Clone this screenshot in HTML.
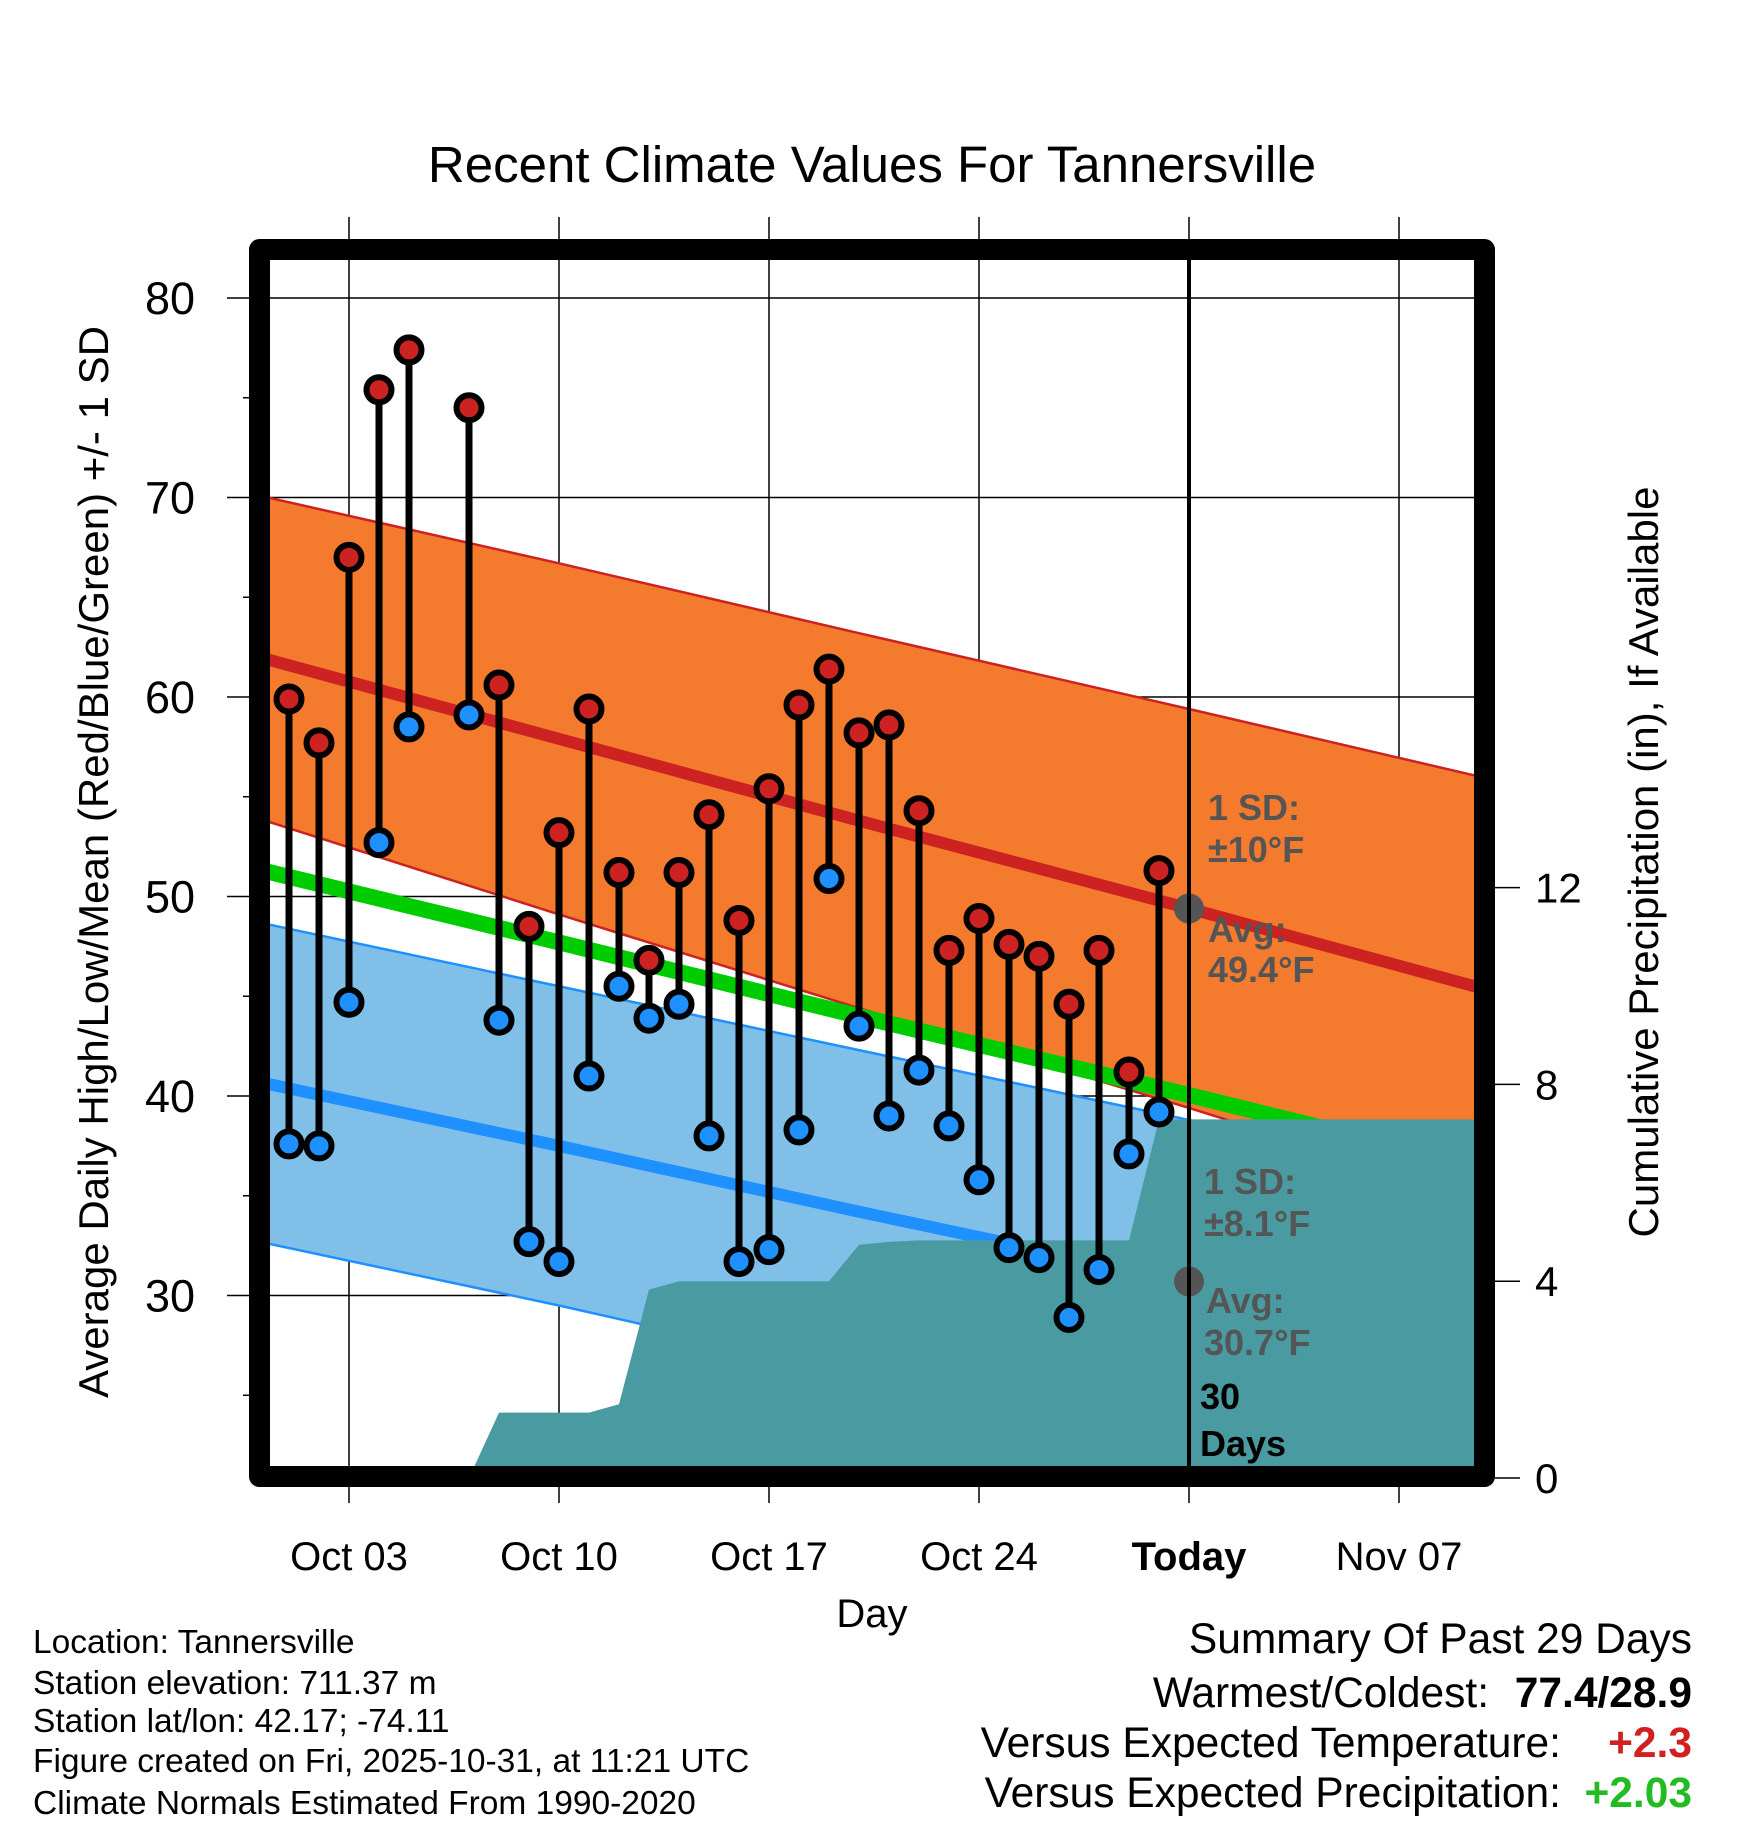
<!DOCTYPE html>
<html><head><meta charset="utf-8"><style>
html,body{margin:0;padding:0;background:#fff;}
svg{display:block;font-family:"Liberation Sans",sans-serif;}
</style></head><body>
<svg id="chart" width="1748" height="1828" viewBox="0 0 1748 1828" xmlns="http://www.w3.org/2000/svg">
<defs><clipPath id="plotclip"><rect x="270" y="260" width="1208" height="1208"/></clipPath></defs>
<text x="872" y="182" font-size="51" text-anchor="middle">Recent Climate Values For Tannersville</text>
<g id="grid"></g>
<g id="plot" clip-path="url(#plotclip)"></g>
<g id="marks"></g>
<g id="axes"></g>
<text transform="translate(108,862) rotate(-90)" font-size="42" text-anchor="middle">Average Daily High/Low/Mean (Red/Blue/Green) +/- 1 SD</text>
<text transform="translate(1658,862) rotate(-90)" font-size="42" text-anchor="middle">Cumulative Precipitation (in), If Available</text>
<text x="872" y="1627" font-size="40" text-anchor="middle">Day</text>
<g font-size="33.5">
<text x="33" y="1653">Location: Tannersville</text>
<text x="33" y="1694">Station elevation: 711.37 m</text>
<text x="33" y="1732">Station lat/lon: 42.17; -74.11</text>
<text x="33" y="1772">Figure created on Fri, 2025-10-31, at 11:21 UTC</text>
<text x="33" y="1814">Climate Normals Estimated From 1990-2020</text>
</g>
<g font-size="42.5">
<text x="1692" y="1653" text-anchor="end">Summary Of Past 29 Days</text>
<text x="1489" y="1707" text-anchor="end">Warmest/Coldest:</text>
<text x="1692" y="1707" text-anchor="end" font-weight="bold">77.4/28.9</text>
<text x="1561" y="1757" text-anchor="end">Versus Expected Temperature:</text>
<text x="1692" y="1757" text-anchor="end" font-weight="bold" fill="#d02020">+2.3</text>
<text x="1561" y="1807" text-anchor="end">Versus Expected Precipitation:</text>
<text x="1692" y="1807" text-anchor="end" font-weight="bold" fill="#22bb22">+2.03</text>
</g>
</svg>
<script>
const days=[1,2,3,4,5,7,8,9,10,11,12,13,14,15,16,17,18,19,20,21,22,23,24,25,26,27,28,29,30];
const highs=[59.9,57.7,67.0,75.4,77.4,74.5,60.6,48.5,53.2,59.4,51.2,46.8,51.2,54.1,48.8,55.4,59.6,61.4,58.2,58.6,54.3,47.3,48.9,47.6,47.0,44.6,47.3,41.2,51.3];
const lows=[37.6,37.5,44.7,52.7,58.5,59.1,43.8,32.7,31.7,41.0,45.5,43.9,44.6,38.0,31.7,32.3,38.3,50.9,43.5,39.0,41.3,38.5,35.8,32.4,31.9,28.9,31.3,37.1,39.2];
const normDays=[0,10,20,31,41];
const normHigh=[62.0,57.9,53.8,49.4,45.3];
const highSD=[8.1,8.8,9.4,10.0,10.6];
const normLow=[40.7,37.5,34.2,30.7,27.4];
const lowSD=[8.0,8.0,8.1,8.1,8.1];
const precipDays=[7,8,11,12,13,14,19,20,21,22,29,30,41];
const precipCum=[0,1.33,1.33,1.5,3.83,4.0,4.0,4.74,4.80,4.83,4.83,7.29,7.29];
const yTicks=[30,40,50,60,70,80];
const yMinor=[25,35,45,55,65,75];
const pTicks=[0,4,8,12];
const xTickDays=[3,10,17,24,31,38];
const xTickLabels=["Oct 03","Oct 10","Oct 17","Oct 24","Today","Nov 07"];
const todayDay=31;

const NS="http://www.w3.org/2000/svg";
const X=d=>349+(d-3)*30;
const Y=v=>298+(80-v)*19.95;
const P=v=>1478-v*49.2;
function mk(tag,attrs,parent){const e=document.createElementNS(NS,tag);for(const k in attrs)e.setAttribute(k,attrs[k]);parent.appendChild(e);return e;}
const grid=document.getElementById('grid'),plot=document.getElementById('plot'),marks=document.getElementById('marks'),axes=document.getElementById('axes');

yTicks.forEach(v=>{const l=mk('line',{x1:227,x2:1478,y1:Y(v),y2:Y(v),stroke:'#000','stroke-width':1.5},grid);

});
xTickDays.forEach(d=>{const l=mk('line',{x1:X(d),x2:X(d),y1:217,y2:1503,stroke:'#000','stroke-width':1.5},grid);

});

const nd=normDays;
function pts(arrA,arrB,sign){return nd.map((d,i)=>X(d)+','+Y(arrA[i]+sign*arrB[i])).join(' ');}
function band(mean,sd,fill,edge,name){
 const up=nd.map((d,i)=>X(d)+','+Y(mean[i]+sd[i]));
 const dn=nd.map((d,i)=>X(d)+','+Y(mean[i]-sd[i])).reverse();
 const p=mk('polygon',{points:up.concat(dn).join(' '),fill:fill},plot);
 
 
 mk('polyline',{points:pts(mean,sd,1),fill:'none',stroke:edge,'stroke-width':2.5},plot);
 mk('polyline',{points:pts(mean,sd,-1),fill:'none',stroke:edge,'stroke-width':2.5},plot);
}
band(normHigh,highSD,'#f47a2e','#cc2222','high-sd-band');
band(normLow,lowSD,'#80c0e8','#1e90ff','low-sd-band');
const meanPts=nd.map((d,i)=>X(d)+','+Y((normHigh[i]+normLow[i])/2)).join(' ');
const gm=mk('polyline',{points:meanPts,fill:'none',stroke:'#00cc00','stroke-width':16},plot);


const hl=mk('polyline',{points:nd.map((d,i)=>X(d)+','+Y(normHigh[i])).join(' '),fill:'none',stroke:'#cc2222','stroke-width':12},plot);


const ll=mk('polyline',{points:nd.map((d,i)=>X(d)+','+Y(normLow[i])).join(' '),fill:'none',stroke:'#1e90ff','stroke-width':12},plot);



let pp=precipDays.map((d,i)=>X(d)+','+P(precipCum[i]));
pp.push(X(precipDays[precipDays.length-1])+','+P(0));pp.push(X(precipDays[0])+','+P(0));
const pa=mk('polygon',{points:pp.join(' '),fill:'#4a9aa2'},plot);



const ann=[['1 SD:',1208,820,'#555'],['±10°F',1208,862,'#555'],['Avg:',1208,942,'#555'],['49.4°F',1208,982,'#555'],
['1 SD:',1204,1194,'#555'],['±8.1°F',1204,1236,'#555'],['Avg:',1206,1313,'#555'],['30.7°F',1204,1355,'#555'],['30',1200,1409,'#000'],['Days',1200,1456,'#000']];
ann.forEach(a=>{const t=mk('text',{x:a[1],y:a[2],'font-size':36,'font-weight':'bold',fill:a[3]},plot);t.textContent=a[0];

});
const ti=normDays.indexOf(todayDay);
[normHigh[ti],normLow[ti]].forEach(v=>{const c=mk('circle',{cx:X(todayDay),cy:Y(v),r:15,fill:'#555'},plot);

});
const tl=mk('line',{x1:X(todayDay),x2:X(todayDay),y1:260,y2:1468,stroke:'#000','stroke-width':4},plot);



days.forEach((d,i)=>{
 const g=mk('g',{},marks);
 
 
 mk('line',{x1:X(d),x2:X(d),y1:Y(highs[i]),y2:Y(lows[i]),stroke:'#000','stroke-width':7},g);
 mk('circle',{cx:X(d),cy:Y(highs[i]),r:12.5,fill:'#cc2222',stroke:'#000','stroke-width':6},g);
 mk('circle',{cx:X(d),cy:Y(lows[i]),r:12.5,fill:'#1e90ff',stroke:'#000','stroke-width':6},g);
});

const fr=mk('rect',{x:259.5,y:249.5,width:1225,height:1227,fill:'none',stroke:'#000','stroke-width':21,'stroke-linejoin':'round'},axes);


yTicks.forEach(v=>{const t=mk('text',{x:195,y:Y(v)+16,'font-size':45,'text-anchor':'end'},axes);t.textContent=v;

});
yMinor.forEach(v=>{mk('line',{x1:243,x2:250,y1:Y(v),y2:Y(v),stroke:'#000','stroke-width':1.5},axes);});
pTicks.forEach(v=>{mk('line',{x1:1495,x2:1520,y1:P(v),y2:P(v),stroke:'#000','stroke-width':1.5},axes);
 const t=mk('text',{x:1535,y:P(v)+15,'font-size':42},axes);t.textContent=v;
 
 });
xTickDays.forEach((d,i)=>{const t=mk('text',{x:X(d),y:1570,'font-size':40,'text-anchor':'middle'},axes);t.textContent=xTickLabels[i];
 if(d===todayDay)t.setAttribute('font-weight','bold');
 
 });
</script>
</body></html>
